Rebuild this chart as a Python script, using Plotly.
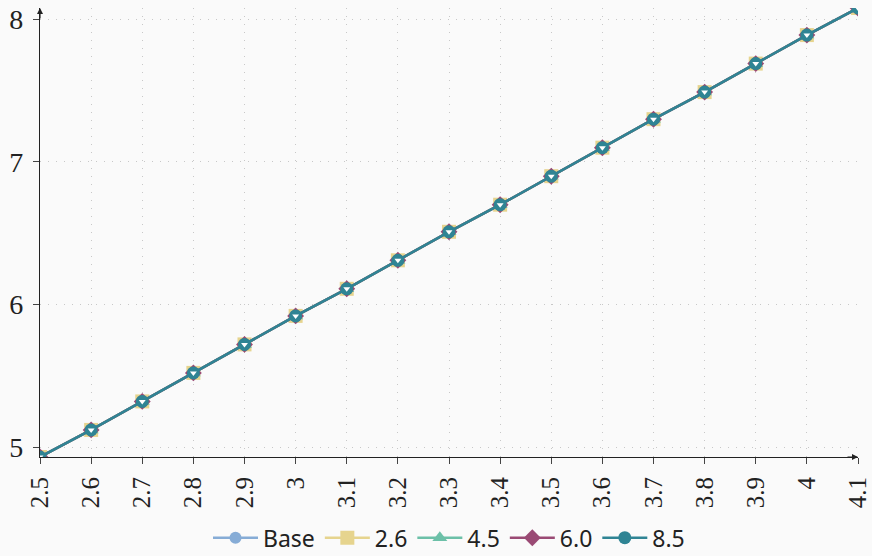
import plotly.graph_objects as go

x_vals = [2.5, 2.6, 2.7, 2.8, 2.9, 3.0, 3.1, 3.2, 3.3, 3.4, 3.5, 3.6, 3.7, 3.8, 3.9, 4.0, 4.1]
base = [4.93, 5.12, 5.32, 5.52, 5.72, 5.92, 6.11, 6.31, 6.51, 6.70, 6.90, 7.10, 7.30, 7.49, 7.69, 7.89, 8.08]
s26 = [4.93, 5.12, 5.32, 5.52, 5.72, 5.92, 6.11, 6.31, 6.51, 6.70, 6.90, 7.10, 7.30, 7.49, 7.69, 7.89, 8.08]
s45 = [4.93, 5.12, 5.32, 5.52, 5.72, 5.92, 6.11, 6.31, 6.51, 6.70, 6.90, 7.10, 7.30, 7.49, 7.69, 7.89, 8.08]
s60 = [4.93, 5.12, 5.32, 5.52, 5.72, 5.92, 6.11, 6.31, 6.51, 6.70, 6.90, 7.10, 7.30, 7.49, 7.69, 7.89, 8.08]
s85 = [4.93, 5.12, 5.32, 5.52, 5.72, 5.92, 6.11, 6.31, 6.51, 6.70, 6.90, 7.10, 7.30, 7.49, 7.69, 7.89, 8.08]
x_ticks = [2.5, 2.6, 2.7, 2.8, 2.9, 3.0, 3.1, 3.2, 3.3, 3.4, 3.5, 3.6, 3.7, 3.8, 3.9, 4.0, 4.1]
x_tick_text = ["2.5", "2.6", "2.7", "2.8", "2.9", "3", "3.1", "3.2", "3.3", "3.4", "3.5", "3.6", "3.7", "3.8", "3.9", "4", "4.1"]
y_ticks = [5, 6, 7, 8]

series = [
    ("Base", base, "#86acd6", "circle", 12),
    ("2.6", s26, "#e6d48e", "square", 14),
    ("4.5", s45, "#6cc0a8", "triangle-up", 13),
    ("6.0", s60, "#9a4a74", "diamond", 13),
    ("8.5", s85, "#2f8494", "circle", 13),
]

SERIF = "Liberation Serif"

fig = go.Figure()
for name, ys, col, sym, size in series:
    fig.add_trace(go.Scatter(
        x=x_vals, y=ys, name=name, mode="lines+markers",
        line=dict(color=col, width=2.5),
        marker=dict(symbol=sym, size=size, color=col, line=dict(width=0)),
    ))
# half-white lower part of the 8.5 markers
fig.add_trace(go.Scatter(
    x=x_vals, y=s85, mode="markers", showlegend=False, hoverinfo="skip",
    marker=dict(symbol="triangle-down", size=6, color="white", line=dict(width=0)),
))

grid = dict(showgrid=True, gridcolor="#c8c8c8", griddash="1px,7px", gridwidth=1)
fig.update_xaxes(
    range=[2.5, 4.1], tickvals=x_ticks, ticktext=x_tick_text, tickangle=-90,
    showline=True, linecolor="#222", linewidth=1.2, ticks="outside", ticklen=6,
    tickcolor="#444", zeroline=False, automargin=False, ticklabelstandoff=3,
    ticklabeloverflow="allow",
    tickfont=dict(family=SERIF, size=25, color="#222"), **grid,
)
fig.update_yaxes(
    range=[4.93, 8.08], tickvals=y_ticks,
    showline=True, linecolor="#222", linewidth=1.2, ticks="outside", ticklen=6,
    tickcolor="#444", zeroline=False, automargin=False, ticklabelstandoff=4,
    ticklabeloverflow="allow",
    tickfont=dict(family=SERIF, size=28, color="#222"), **grid,
)
fig.add_annotation(x=1.0, y=0, xref="paper", yref="paper", ax=-12, ay=0,
                   showarrow=True, arrowhead=2, arrowsize=1, arrowwidth=1.2,
                   arrowcolor="#222", text="")
fig.add_annotation(x=0, y=1.0, xref="paper", yref="paper", ax=0, ay=12,
                   showarrow=True, arrowhead=2, arrowsize=1, arrowwidth=1.2,
                   arrowcolor="#222", text="")
fig.update_layout(
    width=872, height=556,
    margin=dict(l=40, r=14, t=8, b=99, autoexpand=False),
    paper_bgcolor="#fafafa", plot_bgcolor="#fafafa",
    showlegend=True,
    legend=dict(orientation="h", x=0.5, xanchor="center", yref="paper",
                y=-0.132, yanchor="top",
                font=dict(family="Noto Sans", size=23, color="#222"),
                itemwidth=45, tracegroupgap=0, bgcolor="rgba(0,0,0,0)"),
)
fig.write_html("out.html")
